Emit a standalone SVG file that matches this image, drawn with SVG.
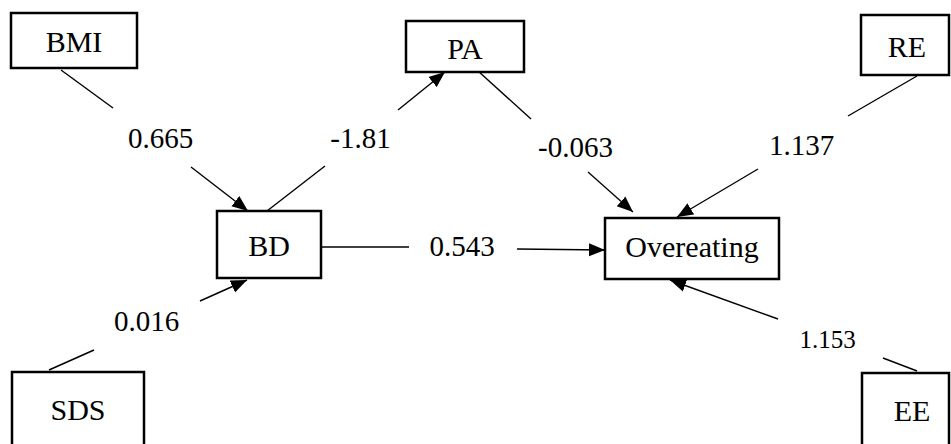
<svg xmlns="http://www.w3.org/2000/svg" width="951" height="444" viewBox="0 0 951 444">
<style>
.box{fill:#fff;stroke:#000;stroke-width:2.5}
text{font-family:"Times New Roman","Liberation Serif",Tinos,"Noto Serif","DejaVu Serif",serif;text-anchor:middle;fill:#000}
.nt{font-size:30px}
.lb{font-size:29px}
.ln{stroke:#000;stroke-width:1.4;fill:none}
</style>
<defs>
<marker id="ah" markerUnits="userSpaceOnUse" markerWidth="17" markerHeight="14" refX="16" refY="7" orient="auto">
<path d="M0,0.5 L16,7 L0,13.5 z" fill="#000"/>
</marker>
</defs>
<rect width="951" height="444" fill="#fff"/>
<g id="connectors" font-family="Times New Roman, Liberation Serif, serif">
<line class="ln" x1="61" y1="70" x2="113" y2="108"/>
<line class="ln" x1="191" y1="167" x2="248" y2="211" marker-end="url(#ah)"/>
<line class="ln" x1="49" y1="370" x2="94" y2="350"/>
<line class="ln" x1="200" y1="301" x2="247" y2="280" marker-end="url(#ah)"/>
<line class="ln" x1="267" y1="211" x2="325" y2="166"/>
<line class="ln" x1="398" y1="110" x2="445" y2="72" marker-end="url(#ah)"/>
<line class="ln" x1="478" y1="71" x2="531" y2="119"/>
<line class="ln" x1="588" y1="172" x2="633" y2="212" marker-end="url(#ah)"/>
<line class="ln" x1="321" y1="247" x2="409" y2="247"/>
<line class="ln" x1="517" y1="249" x2="605" y2="250" marker-end="url(#ah)"/>
<line class="ln" x1="917" y1="76" x2="848" y2="116"/>
<line class="ln" x1="758" y1="169" x2="677" y2="217" marker-end="url(#ah)"/>
<line class="ln" x1="917" y1="371" x2="883" y2="358"/>
<line class="ln" x1="778" y1="319" x2="670" y2="280" marker-end="url(#ah)"/>
<text class="lb" x="160.5" y="148">0.665</text>
<text class="lb" x="360.5" y="148">-1.81</text>
<text class="lb" x="575.5" y="157">-0.063</text>
<text class="lb" x="801.5" y="155">1.137</text>
<text class="lb" x="462" y="256">0.543</text>
<text class="lb" x="146.5" y="331">0.016</text>
<text class="lb" x="827.5" y="348" style="font-size:25px">1.153</text>
</g>
<g id="BMI"><rect class="box" x="11" y="13" width="126" height="55"/><text class="nt" x="74" y="52">BMI</text></g>
<g id="PA"><rect class="box" x="406" y="21" width="118" height="51"/><text class="nt" x="465" y="59">PA</text></g>
<g id="RE"><rect class="box" x="861" y="15" width="88" height="60"/><text class="nt" x="907" y="57">RE</text></g>
<g id="BD"><rect class="box" x="217" y="211" width="104" height="67"/><text class="nt" x="269" y="256">BD</text></g>
<g id="Overeating"><rect class="box" x="605" y="218" width="174" height="61"/><text class="nt" x="692" y="257">Overeating</text></g>
<g id="SDS"><rect class="box" x="12" y="372" width="132" height="90"/><text class="nt" x="78" y="420">SDS</text></g>
<g id="EE"><rect class="box" x="862" y="373" width="87" height="90"/><text class="nt" x="912" y="421">EE</text></g>
</svg>
